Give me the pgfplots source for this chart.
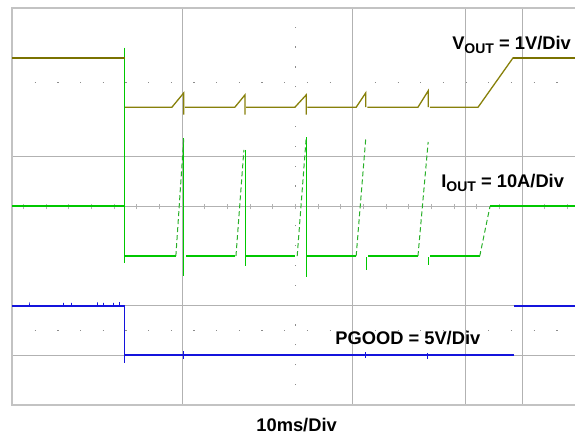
\documentclass[border=0pt]{standalone}
\usepackage{pgfplots}
\pgfplotsset{compat=1.18}
\usepackage{fontspec}
\setmainfont{Liberation Sans}
\definecolor{vout}{RGB}{122,114,0}
\definecolor{vouth}{RGB}{135,128,10}
\definecolor{iout}{RGB}{0,200,0}
\definecolor{ioutd}{RGB}{40,175,40}
\definecolor{pg}{RGB}{20,20,220}
\definecolor{gridc}{RGB}{178,178,178}
\definecolor{borderc}{RGB}{195,195,195}
\definecolor{dotc}{RGB}{140,140,140}
\newcommand{\lbl}{\fontsize{18.3bp}{20bp}\selectfont\bfseries}
\newcommand{\sub}[1]{\raisebox{-4bp}{\fontsize{14bp}{15bp}\selectfont\bfseries #1}}
\begin{document}
\begin{tikzpicture}
\useasboundingbox (-12bp,-30bp) rectangle (563bp,405bp);
\begin{axis}[
  at={(0,0)}, anchor=south west,
  scale only axis, width=563bp, height=397bp,
  xmin=0, xmax=9.93, ymin=0, ymax=8,
  axis line style={draw=none},
  xtick=\empty, ytick=\empty,
  clip=false,
]
% dotted guide lines
\draw[dotc, line width=1.2bp, dash pattern=on 1.2bp off 21.48bp] (axis cs:0.4,6.5) -- (axis cs:9.93,6.5);
\draw[dotc, line width=1.2bp, dash pattern=on 1.2bp off 21.48bp] (axis cs:0.4,1.5) -- (axis cs:9.93,1.5);
\draw[dotc, line width=1.2bp, dash pattern=on 1.2bp off 18.65bp] (axis cs:5,0.4) -- (axis cs:5,8);
% grid
\foreach \xv in {3,6,8,9} {\edef\tmp{\noexpand\draw[gridc, line width=1.1bp] (axis cs:\xv,0) -- (axis cs:\xv,8);}\tmp}
\foreach \yv in {1,2,4,5} {\edef\tmp{\noexpand\draw[gridc, line width=1.1bp] (axis cs:0,\yv) -- (axis cs:9.93,\yv);}\tmp}
% ticks on centre line
\foreach \xv in {0.2,0.6,...,9.9} {\edef\tmp{\noexpand\draw[gridc, line width=1bp] (axis cs:\xv,3.94) -- (axis cs:\xv,4.06);}\tmp}
% border
\draw[borderc, line width=1.5bp] (axis cs:9.93,8) -- (axis cs:0,8) -- (axis cs:0,0) -- (axis cs:9.93,0);

% PGOOD
\addplot[pg, line width=2.2bp] coordinates {(0,2.0) (1.99,2.0)};
\addplot[pg, line width=0.8bp] coordinates {(0.3,2.0) (0.3,2.07) (0.3,2.0) (0.9,2.0) (0.9,2.06) (0.9,2.0) (1.05,2.0) (1.05,2.06) (1.05,2.0) (1.5,2.0) (1.5,2.07) (1.5,2.0) (1.62,2.0) (1.62,2.06) (1.62,2.0) (1.78,2.0) (1.78,2.06) (1.78,2.0) (1.9,2.0) (1.9,2.07)};
\addplot[pg, line width=1bp] coordinates {(1.99,2.0) (1.99,0.85)};
\addplot[pg, line width=2bp] coordinates {(1.99,1.0) (8.85,1.0)};
\addplot[pg, line width=1bp] coordinates {(3.02,1.08) (3.02,0.92)};
\addplot[pg, line width=1bp] coordinates {(6.24,1.06) (6.24,0.94)};
\addplot[pg, line width=1bp] coordinates {(7.32,1.04) (7.32,0.92)};
\addplot[pg, line width=2bp] coordinates {(8.85,2.0) (9.93,2.0)};

% IOUT solid
\addplot[iout, line width=2bp] coordinates {(0,4.0) (1.99,4.0)};
\addplot[iout, line width=1bp] coordinates {(1.99,7.2) (1.99,2.86)};
\addplot[iout, line width=1.8bp] coordinates {(1.99,3.0) (2.89,3.0)};
\addplot[iout, line width=1.8bp] coordinates {(3.07,3.0) (3.93,3.0)};
\addplot[iout, line width=1.8bp] coordinates {(4.13,3.0) (4.99,3.0)};
\addplot[iout, line width=1.8bp] coordinates {(5.21,3.0) (6.07,3.0)};
\addplot[iout, line width=1.8bp] coordinates {(6.28,3.0) (7.16,3.0)};
\addplot[iout, line width=1.8bp] coordinates {(7.37,3.0) (8.25,3.0)};
\addplot[iout, line width=2bp] coordinates {(8.43,4.0) (9.93,4.0)};
\addplot[iout, line width=1bp] coordinates {(3.03,5.38) (3.03,2.60)};
\addplot[iout, line width=1bp] coordinates {(4.11,5.14) (4.11,2.80)};
\addplot[iout, line width=1bp] coordinates {(5.19,5.40) (5.19,2.58)};
\addplot[iout, line width=1bp] coordinates {(6.26,2.98) (6.26,2.72)};
\addplot[iout, line width=1bp] coordinates {(7.35,2.98) (7.35,2.82)};
% IOUT dashed ramps
\addplot[ioutd, line width=1bp, dash pattern=on 5bp off 3bp] coordinates {(2.89,3.0) (3.03,5.38)};
\addplot[ioutd, line width=1bp, dash pattern=on 5bp off 3bp] coordinates {(3.95,3.0) (4.09,5.14)};
\addplot[ioutd, line width=1bp, dash pattern=on 5bp off 3bp] coordinates {(5.03,3.0) (5.19,5.40)};
\addplot[ioutd, line width=1bp, dash pattern=on 5bp off 3bp] coordinates {(6.07,3.0) (6.24,5.38)};
\addplot[ioutd, line width=1bp, dash pattern=on 5bp off 3bp] coordinates {(7.16,3.0) (7.34,5.30)};
\addplot[ioutd, line width=1bp, dash pattern=on 5bp off 3bp] coordinates {(8.25,3.0) (8.43,4.0)};

% VOUT
\addplot[vout, line width=2.2bp] coordinates {(0,7.0) (1.99,7.0)};
\addplot[vouth, line width=1.3bp] coordinates {(1.99,6.0) (2.82,6.0) (3.03,6.29) (3.03,5.85)};
\addplot[vouth, line width=1.3bp] coordinates {(3.05,6.0) (3.93,6.0) (4.11,6.25) (4.11,5.85)};
\addplot[vouth, line width=1.3bp] coordinates {(4.13,6.0) (4.99,6.0) (5.19,6.25) (5.19,5.85)};
\addplot[vouth, line width=1.3bp] coordinates {(5.21,6.0) (6.07,6.0) (6.24,6.29) (6.24,6.0)};
\addplot[vouth, line width=1.3bp] coordinates {(6.27,6.0) (7.16,6.0) (7.34,6.33) (7.34,6.0)};
\addplot[vouth, line width=1.3bp] coordinates {(7.37,6.0) (8.22,6.0) (8.84,7.0)};
\addplot[vout, line width=2bp] coordinates {(8.84,7.0) (9.93,7.0)};

% labels
\node[anchor=base east, inner sep=0pt] at (axis cs:9.86,7.16) {\lbl V\sub{OUT} = 1V/Div};
\node[anchor=base east, inner sep=0pt] at (axis cs:9.74,4.375) {\lbl I\sub{OUT} = 10A/Div};
\node[anchor=base west, inner sep=0pt] at (axis cs:5.70,1.21) {\lbl PGOOD = 5V/Div};
\node[anchor=base, inner sep=0pt] at (axis cs:5.02,-0.54) {\lbl 10ms/Div};
\end{axis}
\end{tikzpicture}
\end{document}
